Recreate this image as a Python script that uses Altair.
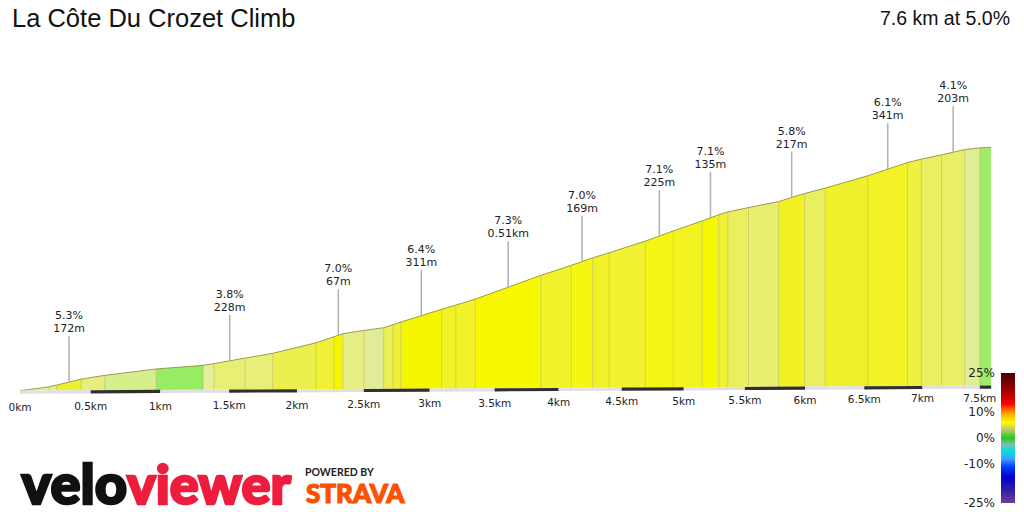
import altair as alt
import numpy as np
import pandas as pd

# Profile: segment boundaries along the climb (km) and height gained there (m)
boundary_km = [0.00, 0.20, 0.26, 0.432, 0.60, 0.97, 1.31, 1.39, 1.618, 1.82,
               2.14, 2.275, 2.342, 2.50, 2.65, 2.72, 2.78, 3.091, 3.20, 3.35,
               3.86, 4.10, 4.269, 4.40, 4.69, 4.915, 5.15, 5.285, 5.36, 5.53,
               5.78, 5.997, 6.17, 6.53, 6.871, 6.99, 7.165, 7.368, 7.50, 7.60]
boundary_gain = [0, 6, 9, 18.1, 24.1, 34.1, 39.8, 42.5, 51.2, 58.6,
                 75.0, 84.6, 89.3, 94.5, 98.7, 103.4, 107.6, 127.5, 134.2, 143.6,
                 180.8, 196.5, 208.3, 216.2, 234.5, 250.5, 266.2, 275.8, 280.2, 287.1,
                 296.5, 309.1, 317.6, 336.9, 357.7, 363.0, 369.7, 378.0, 380.6, 381.7]
# Fill of each segment (gradient colour, shaded)
segment_colour = ["#e6ee92", "#eaee74", "#eef032", "#e8ee7e", "#d6ef8c", "#96ec62",
                  "#e4ef9a", "#e9ef72", "#e8ef78", "#ecf04e", "#f0f036", "#f6f500",
                  "#e5ee84", "#e2ec98", "#ecf058", "#f0f038", "#f6f600", "#f2f226",
                  "#f2f22a", "#f8f800", "#f2f22a", "#f6f612", "#f2f22a", "#f2f232",
                  "#f6f614", "#f3f322", "#f7f702", "#f0f034", "#eaef60", "#e7ee70",
                  "#f2f222", "#eaef62", "#f0f02c", "#f2f226", "#eef042", "#e9ef62",
                  "#e8ef66", "#e0ee98", "#a0ec6a"]

# Featured sections: start (km), length (m), average gradient (%)
section_start_km = [0.26, 1.39, 2.275, 2.78, 3.35, 4.10, 4.69, 5.15, 5.78, 6.53, 7.165]
section_length_m = [172, 228, 67, 311, 510, 169, 225, 135, 217, 341, 203]
section_grade = [5.3, 3.8, 7.0, 6.4, 7.3, 7.0, 7.1, 7.1, 5.8, 6.1, 4.1]

# Distance markers
tick_km = [0, 0.5, 1, 1.5, 2, 2.5, 3, 3.5, 4, 4.5, 5, 5.5, 6, 6.5, 7, 7.5]
tick_text = ["0km", "0.5km", "1km", "1.5km", "2km", "2.5km", "3km", "3.5km",
             "4km", "4.5km", "5km", "5.5km", "6km", "6.5km", "7km", "7.5km"]
strip_km = [0, 0.5, 1, 1.5, 2, 2.5, 3, 3.5, 4, 4.5, 5, 5.5, 6, 6.5, 7, 7.5, 7.6]

# Gradient colour key
legend_value = [25, 10, 0, -10, -25]
legend_text = ["25%", "10%", "0%", "-10%", "-25%"]
legend_stop_value = [25, 20, 16, 13, 11, 9, 6, 3.5, 0, -2.5, -5, -8, -11, -15, -20, -25]
legend_stop_colour = ["#4a0000", "#8b0000", "#c80000", "#ff0000", "#ff6a00", "#ffb000",
                      "#ffff00", "#c8c870", "#22c822", "#80c0b0", "#00e0e0", "#40a0ff",
                      "#0040ff", "#0000d0", "#3020a0", "#7040a0"]

title_text = "La Côte Du Crozet Climb"
summary_text = "7.6 km at 5.0%"

# ---------------------------------------------------------------- tables
seg_rows = []
for i, col in enumerate(segment_colour):
    for j in (i, i + 1):
        seg_rows.append({"seg": i, "km": boundary_km[j], "gain": boundary_gain[j], "colour": col})
seg_df = pd.DataFrame(seg_rows)
profile_df = pd.DataFrame({"km": boundary_km, "gain": boundary_gain})
inner_df = profile_df.iloc[1:-1]

strip_rows = []
for i in range(len(strip_km) - 1):
    shade = "#2f2f2f" if i % 2 else "#e0e0e0"
    for k in (strip_km[i], strip_km[i + 1]):
        strip_rows.append({"seg": i, "km": k, "shade": shade})
strip_df = pd.DataFrame(strip_rows)

tick_df = pd.DataFrame({"km": tick_km, "label": tick_text})

sec = pd.DataFrame({"start": section_start_km, "len": section_length_m, "grade": section_grade})
sec["km"] = sec["start"] + sec["len"] / 2000
sec["gain"] = np.interp(sec["km"], boundary_km, boundary_gain)
sec["top"] = sec["gain"] + 72
sec["grade_txt"] = [f"{g:.1f}%" for g in sec["grade"]]
sec["len_txt"] = [f"{l}m" if l < 500 else f"{l / 1000:.2f}km" for l in sec["len"]]

legend_df = pd.DataFrame({"hi": [max(legend_stop_value)], "lo": [min(legend_stop_value)]})
legend_lbl = pd.DataFrame({"v": legend_value, "label": legend_text})

# ---------------------------------------------------------------- scales
xs = alt.Scale(domain=[-20, 1004])
ys = alt.Scale(domain=[-190.1, 612.4])
ls = alt.Scale(domain=[-28.46, 168.46])
X = alt.X("u:Q", scale=xs, axis=None)


def projected(chart):
    # slight perspective: distance compresses towards the finish, ground rises
    return chart.transform_calculate(
        u="142.3 * datum.km - 1.91 * datum.km * datum.km",
        ground="0.3 + 1.03 * datum.km",
    )


fill = projected(alt.Chart(seg_df).mark_area(strokeWidth=0)).encode(
    x=X,
    y=alt.Y("gain:Q", scale=ys, axis=None),
    y2="ground:Q",
    color=alt.Color("colour:N", scale=None, legend=None),
    detail="seg:N",
)

dividers = projected(alt.Chart(inner_df).mark_rule(color="#a8a848", opacity=0.45, strokeWidth=1)).encode(
    x=X, y=alt.Y("gain:Q", scale=ys, axis=None), y2="ground:Q"
)

outline = projected(alt.Chart(profile_df).mark_line(color="#8c8c40", strokeWidth=1, opacity=0.85)).encode(
    x=X, y=alt.Y("gain:Q", scale=ys, axis=None)
)

strip = projected(alt.Chart(strip_df).mark_area(strokeWidth=0)).transform_calculate(
    under="datum.ground - 5"
).encode(
    x=X,
    y=alt.Y("ground:Q", scale=ys, axis=None),
    y2="under:Q",
    color=alt.Color("shade:N", scale=None, legend=None),
    detail="seg:N",
)

ticks = projected(alt.Chart(tick_df).mark_text(
    font="DejaVu Sans", fontSize=10.5, color="#222", baseline="middle", align="center"
)).transform_calculate(ly="-27 + 1.9 * datum.km").encode(
    x=X, y=alt.Y("ly:Q", scale=ys, axis=None), text="label:N"
)

leaders = projected(alt.Chart(sec).mark_rule(color="#b0b0b0", strokeWidth=1.5)).encode(
    x=X, y=alt.Y("gain:Q", scale=ys, axis=None), y2="top:Q"
)
sec_grade = projected(alt.Chart(sec).mark_text(
    font="DejaVu Sans", fontSize=11, color="#222", baseline="middle", dy=-20
)).encode(x=X, y=alt.Y("top:Q", scale=ys, axis=None), text="grade_txt:N")
sec_len = projected(alt.Chart(sec).mark_text(
    font="DejaVu Sans", fontSize=11, color="#222", baseline="middle", dy=-7
)).encode(x=X, y=alt.Y("top:Q", scale=ys, axis=None), text="len_txt:N")

gradient = alt.Gradient(
    gradient="linear", x1=0, x2=0, y1=0, y2=1,
    stops=[alt.GradientStop(offset=(25 - v) / 50, color=c)
           for v, c in zip(legend_stop_value, legend_stop_colour)],
)
key_bar = alt.Chart(legend_df).mark_rect(color=gradient).encode(
    x=alt.value(1001), x2=alt.value(1015),
    y=alt.Y("hi:Q", scale=ls, axis=None), y2="lo:Q",
)
key_text = alt.Chart(legend_lbl).mark_text(
    font="DejaVu Sans", fontSize=12, color="#222", align="right", baseline="middle"
).encode(x=alt.value(995), y=alt.Y("v:Q", scale=ls, axis=None), text="label:N")

heading = alt.Chart(pd.DataFrame({"t": [title_text]})).mark_text(
    font="Liberation Sans", fontSize=25.5, color="#111", align="left", baseline="middle"
).encode(x=alt.value(12), y=alt.value(19), text="t:N")
summary = alt.Chart(pd.DataFrame({"t": [summary_text]})).mark_text(
    font="Liberation Sans", fontSize=19.5, color="#111", align="right", baseline="middle"
).encode(x=alt.value(1010), y=alt.value(19), text="t:N")

# Logo words, thickened with an outline in the same colour
velo = alt.Chart(pd.DataFrame({"t": ["velo"]})).mark_text(
    font="Lato", fontSize=56, fontWeight=900, color="#111", stroke="#111", strokeWidth=2.5,
    align="right", baseline="alphabetic"
).encode(x=alt.value(127), y=alt.value(504), text="t:N")
viewer = alt.Chart(pd.DataFrame({"t": ["viewer"]})).mark_text(
    font="Lato", fontSize=54, fontWeight=900, color="#ee1d3e", stroke="#ee1d3e", strokeWidth=2.5,
    align="left", baseline="alphabetic"
).encode(x=alt.value(127), y=alt.value(504), text="t:N")
powered = alt.Chart(pd.DataFrame({"t": ["POWERED BY"]})).mark_text(
    font="Lato", fontSize=10.5, fontWeight="bold", color="#222", align="left", baseline="middle"
).encode(x=alt.value(305), y=alt.value(473), text="t:N")
strava = alt.Chart(pd.DataFrame({"t": ["STRAVA"]})).mark_text(
    font="Lato", fontSize=26, fontWeight=900, color="#fc5200", stroke="#fc5200", strokeWidth=1.2,
    align="left", baseline="alphabetic"
).encode(x=alt.value(306), y=alt.value(503), text="t:N")

chart = alt.layer(
    fill, dividers, outline, strip, ticks, leaders, sec_grade, sec_len,
    key_bar, key_text, heading, summary, velo, viewer, powered, strava,
).resolve_scale(x="independent", y="independent").properties(
    width=1024, height=512, padding=0,
    autosize=alt.AutoSizeParams(type="none"),
    background="white",
).configure_view(stroke=None)

chart.save("out.html", embed_options={"renderer": "svg", "actions": False})
